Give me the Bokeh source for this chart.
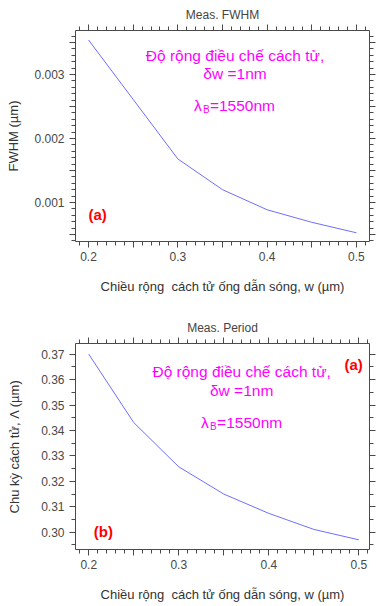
import numpy as np
from bokeh.plotting import figure
from bokeh.layouts import column
from bokeh.models import LinearAxis, FixedTicker, Range1d, Label
from bokeh.embed import file_html
from bokeh.resources import INLINE

# Grating waveguide width sweep (µm)
width_um = [0.20, 0.25, 0.30, 0.35, 0.40, 0.45, 0.50]
# Measured FWHM of the reflection band (µm)
fwhm_um = [0.00354, 0.00261, 0.00168, 0.00120, 0.000886, 0.00069, 0.000526]
# Measured grating period (µm)
period_um = [0.3700, 0.3431, 0.3257, 0.3150, 0.3074, 0.3011, 0.2970]

x_major = [0.20, 0.25, 0.30, 0.35, 0.40, 0.45, 0.50]
x_labels = {0.20: "0.2", 0.25: "", 0.30: "0.3", 0.35: "", 0.40: "0.4", 0.45: "", 0.50: "0.5"}
fwhm_major = [0.0005, 0.001, 0.0015, 0.002, 0.0025, 0.003, 0.0035]
fwhm_labels = {0.0005: "", 0.001: "0.001", 0.0015: "", 0.002: "0.002",
               0.0025: "", 0.003: "0.003", 0.0035: ""}
period_major = [0.30, 0.31, 0.32, 0.33, 0.34, 0.35, 0.36, 0.37]
period_labels = {0.30: "0.30", 0.31: "0.31", 0.32: "0.32", 0.33: "0.33",
                 0.34: "0.34", 0.35: "0.35", 0.36: "0.36", 0.37: "0.37"}

FONT = "Liberation Sans"
AXIS_COLOR = "#4a4a4a"
LABEL_COLOR = "#484848"
LINE_COLOR = "#6e6eff"
NOTE_COLOR = "#ff00ff"
TAG_COLOR = "#ff0000"

x_minor = [float(round(v, 4)) for v in np.arange(0.17, 0.53, 0.01)]
fwhm_minor = [float(round(v, 6)) for v in np.arange(0.0003, 0.0038, 0.0001)]
period_minor = [float(round(v, 4)) for v in np.arange(0.290, 0.376, 0.005)]


def style_axis(ax, ticker, labels, show_labels):
    ax.ticker = ticker
    ax.axis_line_color = AXIS_COLOR
    ax.major_tick_line_color = AXIS_COLOR
    ax.minor_tick_line_color = AXIS_COLOR
    ax.major_tick_in = 0
    ax.major_tick_out = 6
    ax.minor_tick_in = 0
    ax.minor_tick_out = 4
    ax.major_label_text_font = FONT
    ax.major_label_text_font_size = "12px"
    ax.major_label_text_color = LABEL_COLOR
    if show_labels:
        ax.major_label_overrides = labels
        ax.major_label_standoff = 4
    else:
        ax.major_label_overrides = {t: "" for t in ticker.ticks}
        ax.major_label_standoff = 0
    ax.axis_label_text_font = FONT
    ax.axis_label_text_font_style = "normal"
    ax.axis_label_text_font_size = "13px"
    ax.axis_label_text_color = "#333333"


def make_fig(h, x_rng, y_rng, title, y_label, y_ticks, y_minor, y_labels,
             top, bottom, right, y_label_standoff):
    p = figure(width=376, height=h, x_range=Range1d(*x_rng), y_range=Range1d(*y_rng),
               output_backend="svg", toolbar_location=None, title=title,
               min_border_left=75, min_border_right=right,
               min_border_top=top, min_border_bottom=bottom)
    p.outline_line_color = None
    p.grid.visible = False
    p.title.align = "center"
    p.title.text_font = FONT
    p.title.text_font_style = "normal"
    p.title.text_font_size = "12px"
    p.title.text_color = "#444444"
    p.title.standoff = 6

    xt = FixedTicker(ticks=x_major, minor_ticks=x_minor)
    yt = FixedTicker(ticks=y_ticks, minor_ticks=y_minor)
    style_axis(p.xaxis[0], xt, x_labels, True)
    style_axis(p.yaxis[0], yt, y_labels, True)
    p.xaxis[0].axis_label = "Chiều rộng\u00a0 cách tử ống dẫn sóng, w (µm)"
    p.xaxis[0].axis_label_standoff = 15
    p.yaxis[0].axis_label = y_label
    p.yaxis[0].axis_label_standoff = y_label_standoff
    p.yaxis[0].major_label_standoff = 5

    top_ax = LinearAxis()
    right_ax = LinearAxis()
    style_axis(top_ax, FixedTicker(ticks=x_major, minor_ticks=x_minor), None, False)
    style_axis(right_ax, FixedTicker(ticks=y_ticks, minor_ticks=y_minor), None, False)
    p.add_layout(top_ax, "above")
    p.add_layout(right_ax, "right")
    return p


def add_text(p, x, y, text, color, size, bold=False, align="center", x_offset=0, y_offset=0):
    p.add_layout(Label(x=x, y=y, text=text, text_color=color, text_font=FONT,
                       text_font_size=size, text_font_style="bold" if bold else "normal",
                       text_align=align, text_baseline="middle",
                       x_offset=x_offset, y_offset=y_offset))


def add_notes(p, xc, y1, y2, y3, xl):
    add_text(p, xc, y1, "Độ rộng điều chế cách tử,", NOTE_COLOR, "15.5px")
    add_text(p, xc, y2, "δw =1nm", NOTE_COLOR, "15.5px")
    add_text(p, xl, y3, "λ", NOTE_COLOR, "15.5px", align="left")
    add_text(p, xl, y3, "B", NOTE_COLOR, "10px", align="left", x_offset=9, y_offset=-4)
    add_text(p, xl, y3, "=1550nm", NOTE_COLOR, "15.5px", align="left", x_offset=16)


# (a) FWHM versus waveguide width
p1 = make_fig(300, (0.1854, 0.5146), (0.00039, 0.003688), "Meas. FWHM", "FWHM (µm)",
              fwhm_major, fwhm_minor, fwhm_labels, top=30, bottom=59, right=7,
              y_label_standoff=10)
p1.line(width_um, fwhm_um, line_color=LINE_COLOR, line_width=1)
add_notes(p1, 0.364, 0.003297, 0.003016, 0.002516, 0.318)
add_text(p1, 0.2101, 0.000808, "(a)", TAG_COLOR, "15px", bold=True)

# (b) grating period versus waveguide width
p2 = make_fig(306, (0.1853, 0.5118), (0.2932, 0.3742), "Meas. Period", "Chu kỳ cách tử, Λ (µm)",
              period_major, period_minor, period_labels, top=43, bottom=57, right=6,
              y_label_standoff=16)
p2.line(width_um, period_um, line_color=LINE_COLOR, line_width=1)
add_notes(p2, 0.3698, 0.3630, 0.3558, 0.3430, 0.3248)
add_text(p2, 0.4941, 0.3659, "(a)", TAG_COLOR, "15px", bold=True)
add_text(p2, 0.2163, 0.3004, "(b)", TAG_COLOR, "15px", bold=True)

layout = column(p1, p2, spacing=0)
open("out.html", "w").write(file_html(layout, INLINE))
